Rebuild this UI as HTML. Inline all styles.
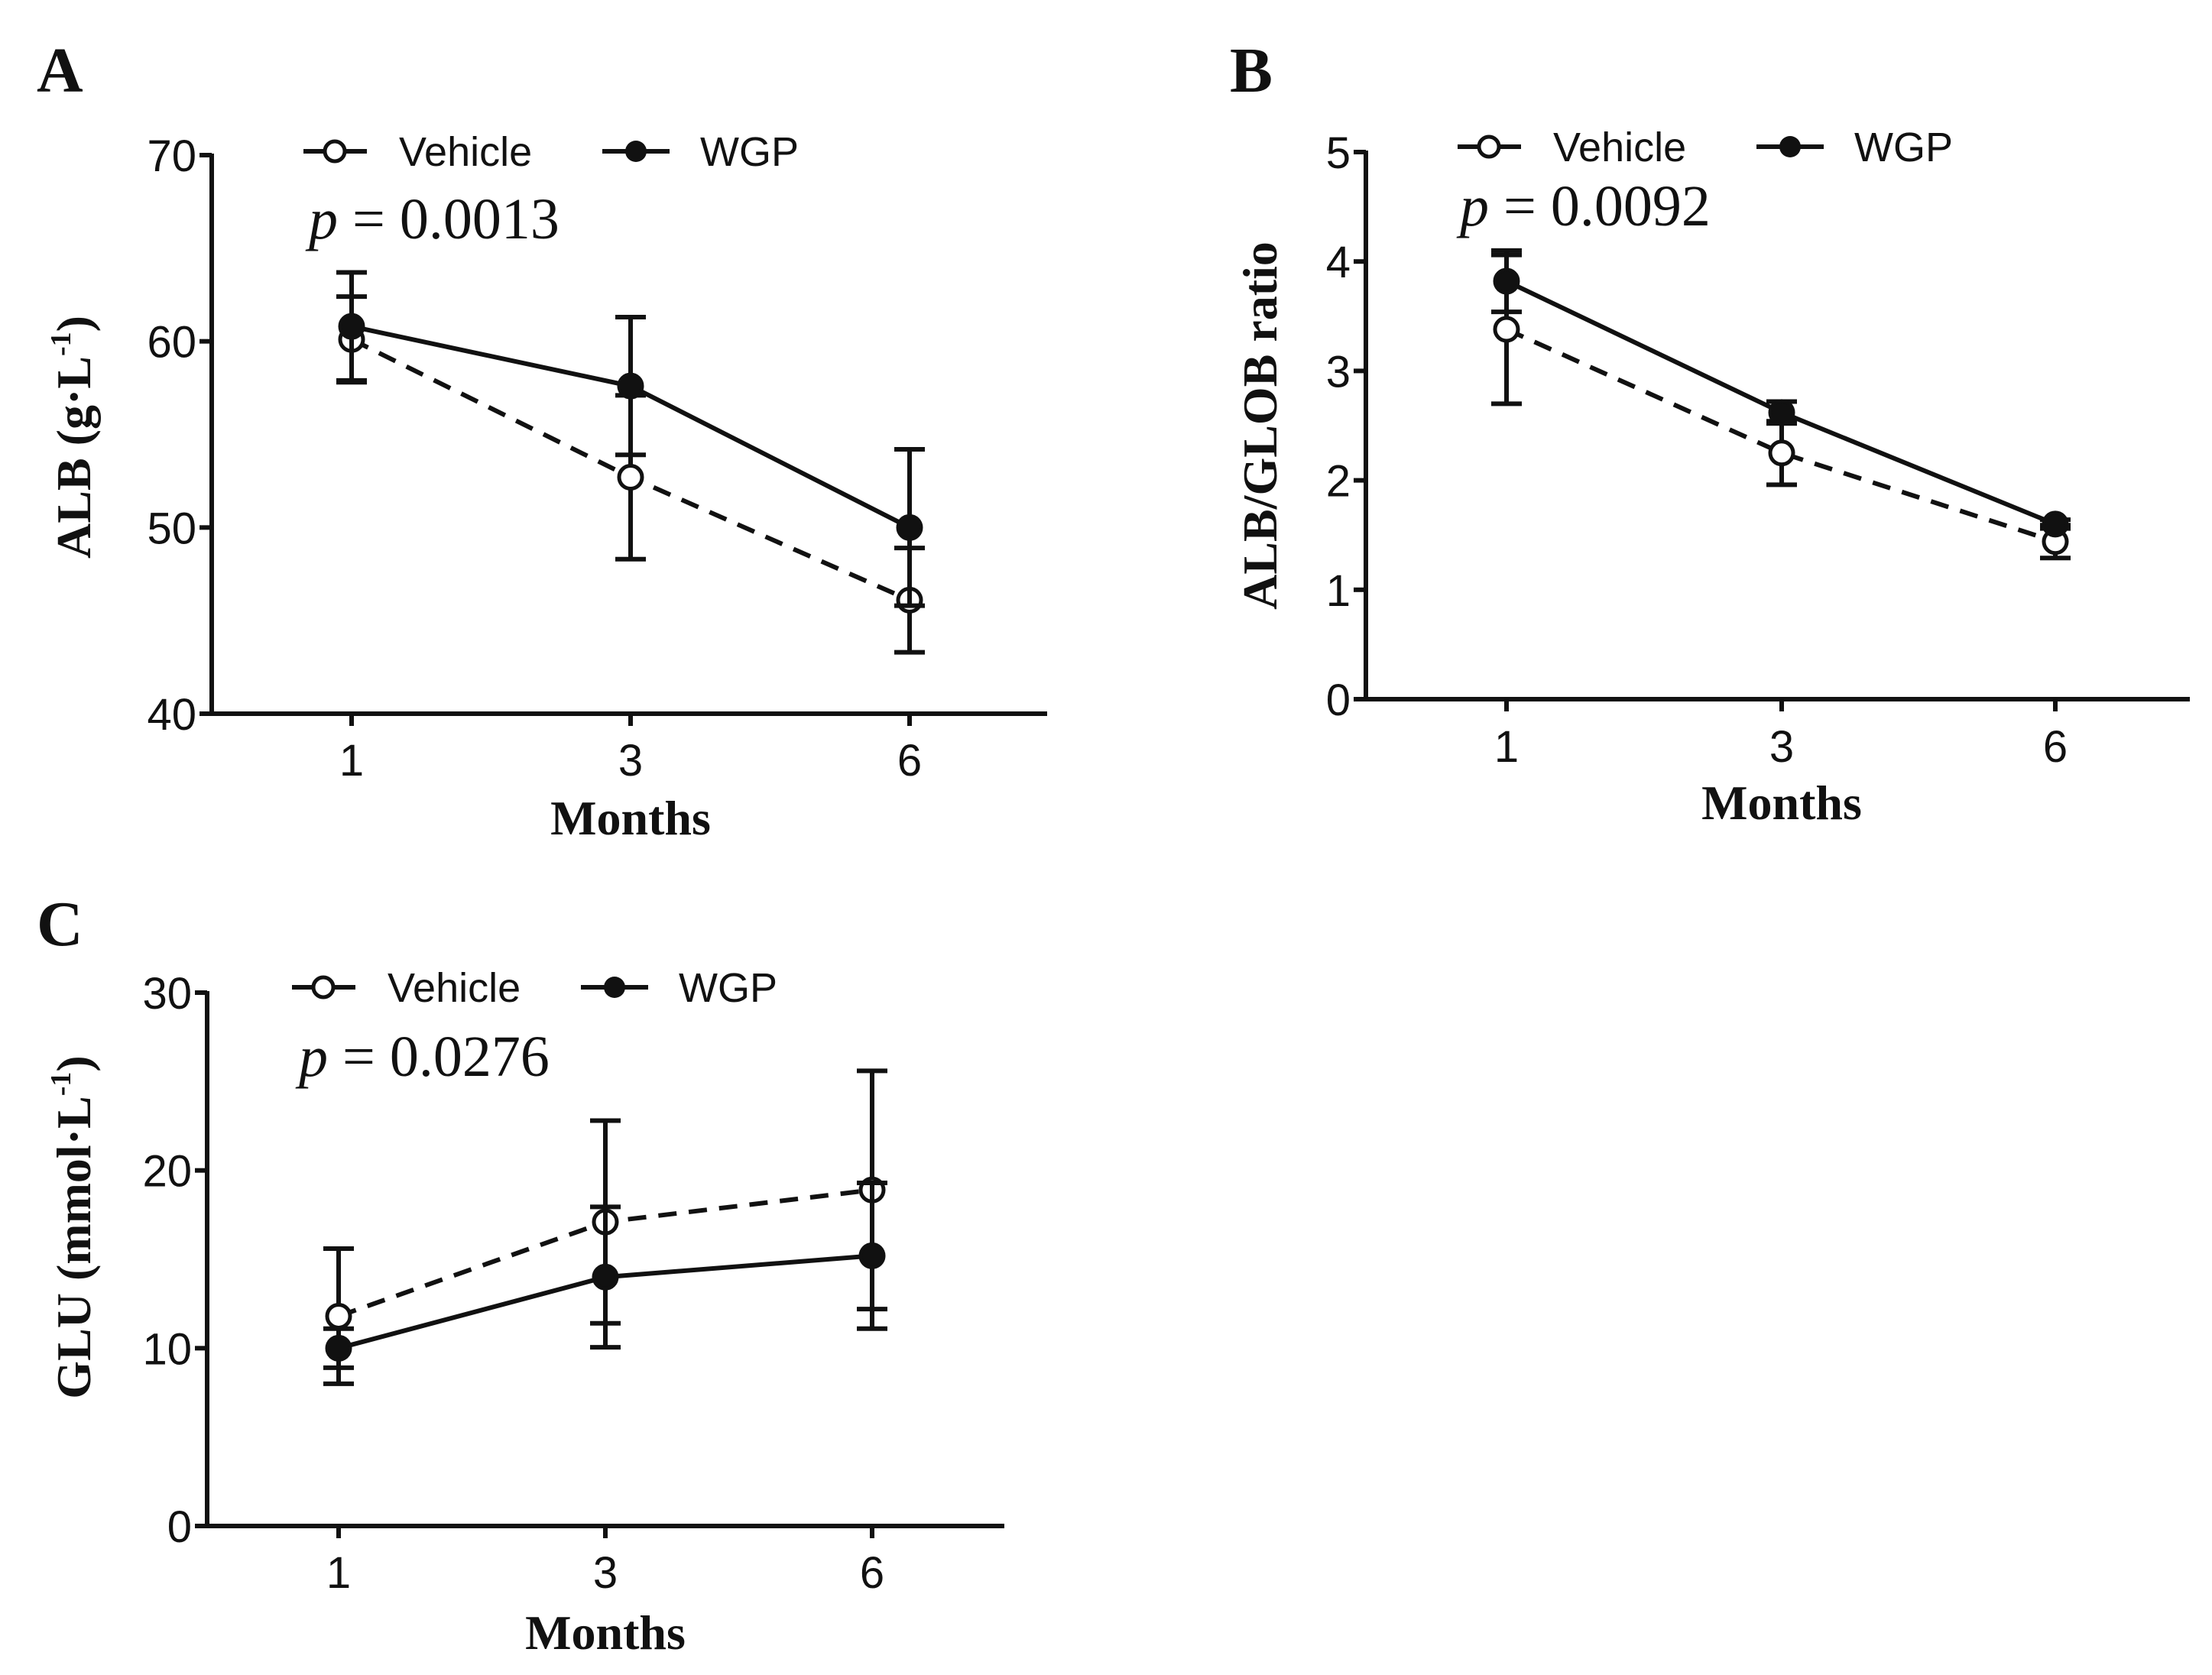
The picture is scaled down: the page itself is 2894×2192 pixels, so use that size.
<!DOCTYPE html>
<html><head><meta charset="utf-8"><style>
html,body{margin:0;padding:0;background:#fff}
svg{display:block}
.tick{font-family:"Liberation Sans",sans-serif;font-size:58px;fill:#111}
.leg{font-family:"Liberation Sans",sans-serif;font-size:54px;fill:#111}
.pv{font-family:"Liberation Serif",serif;font-size:76px;fill:#111}
.ttl{font-family:"Liberation Serif",serif;font-size:64px;font-weight:bold;fill:#111}
.lab{font-family:"Liberation Serif",serif;font-size:84px;font-weight:bold;fill:#111}
</style></head><body>
<svg id="fig" width="2894" height="2192" viewBox="0 0 2894 2192" xmlns="http://www.w3.org/2000/svg"></svg>
<script>
const months = ["1","3","6"];
const albVehicle = [60.1, 52.7, 46.1];
const albVehicleErr = [2.3, 4.4, 2.8];
const albWgp = [60.8, 57.6, 50.0];
const albWgpErr = [2.9, 3.7, 4.2];
const albTicks = [40, 50, 60, 70];
const ratioVehicle = [3.38, 2.25, 1.44];
const ratioVehicleErr = [0.68, 0.29, 0.15];
const ratioWgp = [3.82, 2.62, 1.60];
const ratioWgpErr = [0.28, 0.10, 0.04];
const ratioTicks = [0, 1, 2, 3, 4, 5];
const gluVehicle = [11.8, 17.1, 18.9];
const gluVehicleErr = [3.8, 5.7, 6.7];
const gluWgp = [10.0, 14.0, 15.2];
const gluWgpErr = [1.1, 3.95, 4.1];
const gluTicks = [0, 10, 20, 30];

const NS = "http://www.w3.org/2000/svg";
const svg = document.getElementById('fig');
function mk(tag, attrs, parent, text){
  const e = document.createElementNS(NS, tag);
  for (const k in attrs) e.setAttribute(k, attrs[k]);
  if (text !== undefined) e.textContent = text;
  (parent || svg).appendChild(e);
  return e;
}
function panel(cfg){
  const g = mk('g', {});
  
  
  const ymin = cfg.ticks[0], ymax = cfg.ticks[cfg.ticks.length-1];
  const Y = v => cfg.bottom - (v - ymin) / (ymax - ymin) * (cfg.bottom - cfg.top);
  const X = i => cfg.xs[i];
  const ax = mk('path', {d:`M${cfg.ax} ${cfg.top-2}V${cfg.bottom}H${cfg.xend}`, stroke:'#111','stroke-width':6, fill:'none'}, g);
  
  
  cfg.ticks.forEach(t => {
    mk('line', {x1:cfg.ax-16, x2:cfg.ax, y1:Y(t), y2:Y(t), stroke:'#111','stroke-width':6}, g);
    const tl = mk('text', {x:cfg.ax-20, y:Y(t)+21, 'text-anchor':'end', class:'tick'}, g, String(t));
    
    
  });
  months.forEach((m, i) => {
    mk('line', {x1:X(i), x2:X(i), y1:cfg.bottom, y2:cfg.bottom+16, stroke:'#111','stroke-width':6}, g);
    const tl = mk('text', {x:X(i), y:cfg.xlab, 'text-anchor':'middle', class:'tick'}, g, m);
    
    
  });
  function series(vals, errs, dashed, filled, name){
    const sg = mk('g', {}, g);
    
    
    vals.forEach((v, i) => {
      const hi = Y(v + errs[i]), lo = Y(v - errs[i]);
      mk('line', {x1:X(i), x2:X(i), y1:hi, y2:lo, stroke:'#111','stroke-width':6}, sg);
      mk('line', {x1:X(i)-20, x2:X(i)+20, y1:hi, y2:hi, stroke:'#111','stroke-width':6}, sg);
      mk('line', {x1:X(i)-20, x2:X(i)+20, y1:lo, y2:lo, stroke:'#111','stroke-width':6}, sg);
    });
    const pts = vals.map((v, i) => X(i) + ',' + Y(v)).join(' ');
    const pl = mk('polyline', {points:pts, fill:'none', stroke:'#111','stroke-width':6, 'stroke-dasharray': dashed ? '24 16' : 'none'}, sg);
    
    
    vals.forEach((v, i) => {
      const c = mk('circle', {cx:X(i), cy:Y(v), r:15, fill: filled ? '#111' : '#fff', stroke:'#111','stroke-width':5}, sg);
      
      
    });
  }
  series(cfg.veh, cfg.vehErr, true, false, 'vehicle');
  series(cfg.wgp, cfg.wgpErr, false, true, 'wgp');
  const lg = mk('g', {}, g);
  
  
  const ly = cfg.ly, l1 = cfg.leg1, l2 = cfg.leg2;
  mk('line', {x1:l1, x2:l1+30, y1:ly, y2:ly, stroke:'#111','stroke-width':6}, lg);
  mk('line', {x1:l1+55, x2:l1+83, y1:ly, y2:ly, stroke:'#111','stroke-width':6}, lg);
  mk('circle', {cx:l1+41, cy:ly, r:13, fill:'#fff', stroke:'#111','stroke-width':5}, lg);
  mk('text', {x:l1+125, y:ly+19, class:'leg'}, lg, 'Vehicle');
  mk('line', {x1:l2, x2:l2+88, y1:ly, y2:ly, stroke:'#111','stroke-width':6}, lg);
  mk('circle', {cx:l2+44, cy:ly, r:14, fill:'#111'}, lg);
  mk('text', {x:l2+128, y:ly+19, class:'leg'}, lg, 'WGP');
  const p = mk('text', {x:cfg.px, y:cfg.py, class:'pv'}, g);
  
  
  mk('tspan', {'font-style':'italic'}, p, 'p');
  mk('tspan', {}, p, ' = ' + cfg.p);
  const lab = mk('text', {x:cfg.labx, y:cfg.laby, class:'lab'}, g, cfg.label);
  
  
  const xt = mk('text', {x:cfg.xs[1], y:cfg.mty, 'text-anchor':'middle', class:'ttl'}, g, 'Months');
  
  
  const yt = mk('text', {x:0, y:0, 'text-anchor':'middle', class:'ttl', transform:`translate(${cfg.ytx},${cfg.yty}) rotate(-90)`}, g);
  
  
  mk('tspan', {}, yt, cfg.ytitle);
  if (cfg.sup){ mk('tspan', {'font-size':'38', dy:'-26'}, yt, '-1'); mk('tspan', {dy:'26'}, yt, ')'); }
}
panel({id:'alb', label:'A', ticks:albTicks, top:203, bottom:934, ax:277, xend:1370, xs:[460,825,1190], xlab:1015,
  veh:albVehicle, vehErr:albVehicleErr, wgp:albWgp, wgpErr:albWgpErr, ly:198, leg1:397, leg2:788,
  px:404, py:312, p:'0.0013', labx:48, laby:120, mty:1092, ytx:118, yty:572, ytitle:'ALB (g·L', sup:true});
panel({id:'ratio', label:'B', ticks:ratioTicks, top:199, bottom:915, ax:1787, xend:2865, xs:[1971,2331,2689], xlab:997,
  veh:ratioVehicle, vehErr:ratioVehicleErr, wgp:ratioWgp, wgpErr:ratioWgpErr, ly:192, leg1:1907, leg2:2298,
  px:1910, py:295, p:'0.0092', labx:1609, laby:120, mty:1072, ytx:1670, yty:557, ytitle:'ALB/GLOB ratio', sup:false});
panel({id:'glu', label:'C', ticks:gluTicks, top:1299, bottom:1997, ax:271, xend:1314, xs:[443,792,1141], xlab:2078,
  veh:gluVehicle, vehErr:gluVehicleErr, wgp:gluWgp, wgpErr:gluWgpErr, ly:1292, leg1:382, leg2:760,
  px:391, py:1408, p:'0.0276', labx:48, laby:1237, mty:2158, ytx:118, yty:1606, ytitle:'GLU (mmol·L', sup:true});
</script>
</body></html>
